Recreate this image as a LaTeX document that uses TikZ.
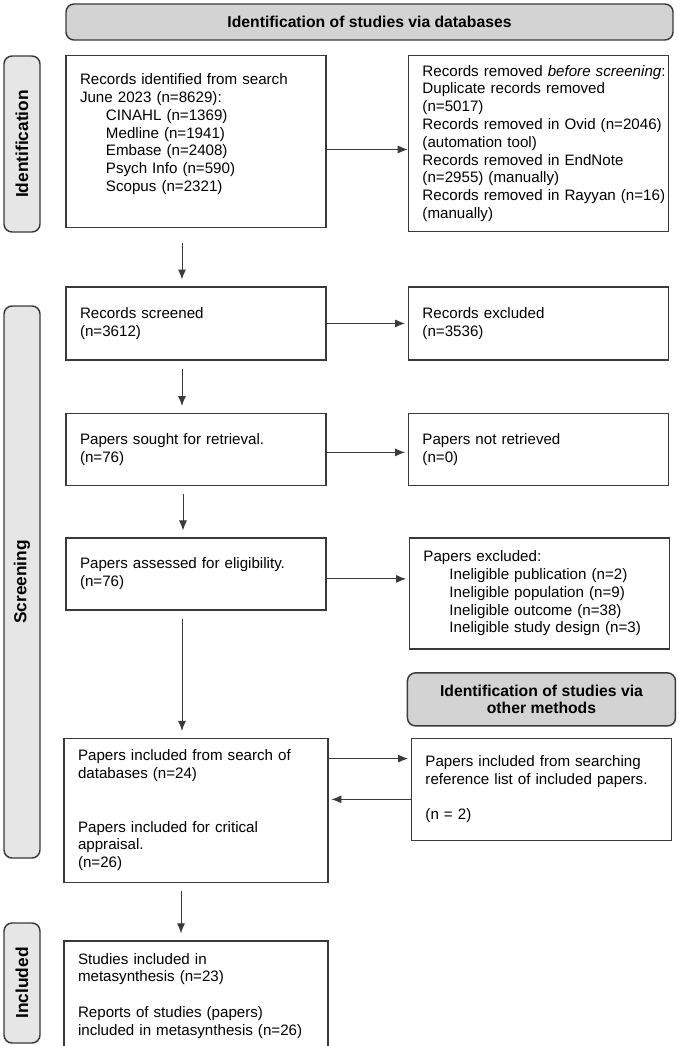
\documentclass[tikz,border=0pt]{standalone}
\usepackage{fontspec}
\setmainfont{Liberation Sans}
\usepackage{tikz}
\usetikzlibrary{shapes,arrows,arrows.meta}
\usetikzlibrary{positioning}
\definecolor{bannergray}{HTML}{D3D3D3}
\definecolor{sidegray}{HTML}{E6E6E6}
\definecolor{edgegray}{HTML}{3A3A3A}
\tikzstyle{box} = [rectangle, draw=edgegray, line width=1.1pt, fill=white,
    text width=191pt, align=left, inner xsep=2pt, inner ysep=0pt,
    execute at begin node={\leftskip=8.5pt\rightskip=-8pt plus 1fil\relax},
    font=\fontsize{11.35}{13.35}\selectfont]
\tikzstyle{banner} = [rectangle, rounded corners=6pt, draw=edgegray, line width=1.1pt,
    fill=bannergray, align=center, font=\fontsize{11.8}{13.35}\selectfont\bfseries]
\tikzstyle{side} = [rectangle, rounded corners=6pt, draw=edgegray, line width=1.1pt,
    fill=sidegray, rotate=90, minimum height=27pt, inner sep=0pt,
    font=\fontsize{13}{15}\selectfont\bfseries]
\tikzstyle{line} = [draw=edgegray, line width=0.75pt, -{Latex[length=7.5pt,width=6pt]}]
\tikzstyle{down} = [line, shorten <=6pt, shorten >=5pt]

\begin{document}
\begin{tikzpicture}[x=0.75pt,y=0.75pt]
    \useasboundingbox (0,0) rectangle (688,-1046);
    % Place nodes
    \node [banner, minimum width=455.25pt, minimum height=27pt] (dbhead) at (369.5,-22) {Identification of studies via databases};
    \node [box, minimum height=129pt, below=10.5pt of dbhead.south west, anchor=north west] (found) {Records identified from search\\
        June 2023 (n=8629):\\
        \hspace*{19.5pt}CINAHL (n=1369)\\
        \hspace*{19.5pt}Medline (n=1941)\\
        \hspace*{19.5pt}Embase (n=2408)\\
        \hspace*{19.5pt}Psych Info (n=590)\\
        \hspace*{19.5pt}Scopus (n=2321)\\ \mbox{}};
    \node [box, minimum height=132pt, right=60.75pt of found.north east, anchor=north west] (removed) {Records removed \emph{before screening}:\\
        Duplicate records removed\\
        (n=5017)\\
        Records removed in Ovid (n=2046)\\
        (automation tool)\\
        Records removed in EndNote\\
        (n=2955) (manually)\\
        Records removed in Rayyan (n=16)\\
        (manually)};
    \node [box, minimum height=54.75pt, below=43.5pt of found] (screened) {Records screened\\ (n=3612)};
    \node [box, minimum height=54.75pt, right=60.75pt of screened] (excluded) {Records excluded\\ (n=3536)};
    \node [box, minimum height=54pt, below=39pt of screened] (sought) {Papers sought for retrieval.\\ (n=76)};
    \node [box, minimum height=54pt, right=60.75pt of sought] (notfound) {Papers not retrieved\\ (n=0)};
    \node [box, minimum height=54pt, below=38.25pt of sought] (assessed) {Papers assessed for eligibility.\\ (n=76)};
    \node [box, minimum height=83.25pt, right=61.5pt of assessed.north east, anchor=north west] (reasons) {Papers excluded:\\
        \hspace*{19.5pt}Ineligible publication (n=2)\\
        \hspace*{19.5pt}Ineligible population (n=9)\\
        \hspace*{19.5pt}Ineligible outcome (n=38)\\
        \hspace*{19.5pt}Ineligible study design (n=3)};
    \node [box, text width=194pt, minimum height=108pt, below=95.25pt of assessed] (included) {Papers included from search of\\
        databases (n=24)\\[26.7pt]
        Papers included for critical\\
        appraisal.\\
        (n=26)};
    \node [box, minimum height=76.5pt, right=61.5pt of included.north east, anchor=north west] (refs) {Papers included from searching\\
        reference list of included papers.\\[13.35pt]
        (n = 2)};
    \node [banner, minimum width=201pt, minimum height=39.75pt, above=8.25pt of refs] (otherhead) {Identification of studies via\\ other methods};
    \node [box, text width=194pt, minimum height=82.5pt, below=42.75pt of included] (studies) {Studies included in\\
        metasynthesis (n=23)\\[13.35pt]
        Reports of studies (papers)\\
        included in metasynthesis (n=26)};
    % Side labels
    \node [side, minimum width=132pt] (sideid) at (22,-144) {Identification};
    \node [side, minimum width=414pt] (sidescr) at (22,-582) {Screening};
    \node [side, minimum width=90pt] (sideinc) at (22,-983) {Included};
    % Draw edges
    \path [line] ([yshift=-6pt]found.east) -- ([yshift=-6pt]found.east -| removed.west);
    \path [line, shorten >=2pt] (screened.east) -- (screened.east -| excluded.west);
    \path [line, shorten >=2pt] ([yshift=-2.25pt]sought.east) -- ([yshift=-2.25pt]sought.east -| notfound.west);
    \path [line, shorten >=2pt] ([yshift=-3.75pt]assessed.east) -- ([yshift=-3.75pt]assessed.east -| reasons.west);
    \path [line, shorten >=2pt] ([yshift=-15.75pt]included.north east) -- ([yshift=-15.75pt]included.north east -| refs.west);
    \path [line, shorten >=2pt] ([yshift=-7.5pt]refs.west) -- ([yshift=-7.5pt]refs.west -| included.east);
    \path [down, shorten <=11pt] ([xshift=-10.5pt]found.south) -- ([xshift=-10.5pt]found.south |- screened.north);
    \path [down] ([xshift=-10.5pt]screened.south) -- ([xshift=-10.5pt]screened.south |- sought.north);
    \path [down] ([xshift=-9.75pt]sought.south) -- ([xshift=-9.75pt]sought.south |- assessed.north);
    \path [down] ([xshift=-10.5pt]assessed.south) -- ([xshift=-10.5pt]assessed.south |- included.north);
    \path [down] ([xshift=-11.25pt]included.south) -- ([xshift=-11.25pt]included.south |- studies.north);
\end{tikzpicture}
\end{document}
